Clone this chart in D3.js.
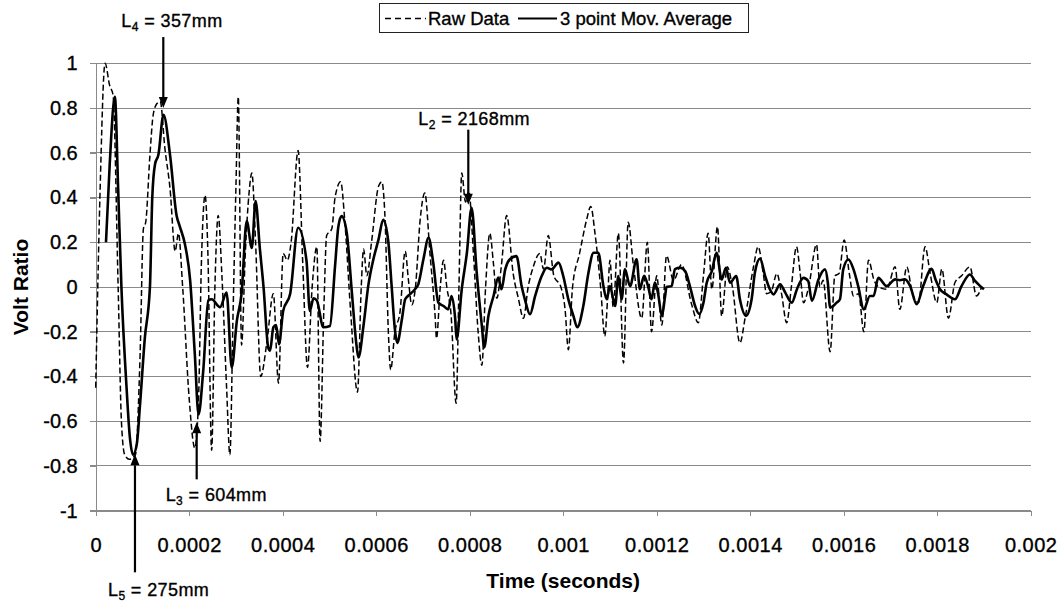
<!DOCTYPE html>
<html>
<head>
<meta charset="utf-8">
<script src="https://cdn.jsdelivr.net/npm/d3@7/dist/d3.min.js"></script>
<style>
  html, body { margin: 0; padding: 0; background: #fff; }
  svg { display: block; font-family: "Liberation Sans", Arial, sans-serif; }
  .ink { fill: #000; stroke: #000; stroke-width: 0.35px; }
</style>
</head>
<body>
<svg id="chart" width="1060" height="602"></svg>
<script>
// Time in microseconds, value as volt ratio.
const rawData = [
  [0,-0.45],[9,0.4],[20,1.0],[30,0.9],[37,0.86],[48,0.0],[55,-0.6],[62,-0.75],[72,-0.77],[85,-0.75],
  [95,-0.3],[102,0.26],[107,0.29],[116,0.59],[123,0.77],[131,0.82],[138,0.83],[148,0.62],[159,0.44],[170,0.16],
  [177,0.24],[186,0.0],[200,-0.5],[212,-0.72],[220,-0.5],[226,0.1],[234,0.41],[240,0.15],[248,-0.73],[255,0.0],
  [262,0.32],[270,0.05],[280,-0.45],[287,-0.75],[294,-0.1],[300,0.45],[305,0.85],[312,-0.26],[320,0.15],[328,0.42],
  [334,0.51],[342,0.2],[353,-0.40],[366,-0.25],[380,-0.03],[391,-0.43],[401,0.15],[410,0.12],[418,0.2],[433,0.61],
  [443,0.1],[453,-0.36],[463,0.0],[473,0.18],[480,-0.69],[488,-0.1],[494,0.23],[505,0.26],[512,0.4],[524,0.47],
  [533,0.29],[545,-0.1],[560,-0.47],[568,0.0],[573,0.17],[580,0.05],[590,0.2],[605,0.45],[612,0.47],[619,0.3],
  [626,-0.2],[631,-0.37],[640,-0.2],[651,-0.11],[662,0.16],[669,0.03],[676,-0.08],[684,0.0],[694,0.3],[704,0.42],
  [715,0.15],[726,-0.13],[729,-0.23],[737,0.0],[744,0.12],[751,0.0],[760,-0.12],[771,-0.52],[777,0.0],[783,0.51],
  [791,0.38],[798,0.43],[808,0.15],[818,-0.2],[826,-0.35],[834,0.0],[843,0.24],[851,0.1],[858,-0.05],[868,0.1],
  [879,0.32],[893,0.06],[904,-0.05],[915,-0.14],[925,0.0],[936,0.09],[950,0.15],[958,0.08],[968,0.23],[980,0.05],
  [995,0.0],[1004,-0.1],[1011,-0.28],[1020,0.0],[1035,0.15],[1050,0.3],[1059,0.36],[1068,0.24],[1080,0.0],[1089,-0.22],
  [1095,-0.05],[1100,0.12],[1107,-0.09],[1118,0.24],[1129,-0.34],[1139,0.29],[1150,0.1],[1168,-0.14],[1180,0.2],[1189,-0.2],
  [1200,0.05],[1211,-0.17],[1221,0.14],[1236,0.03],[1253,0.1],[1275,-0.08],[1289,-0.16],[1300,0.05],[1310,0.24],[1318,-0.01],
  [1330,0.27],[1339,-0.13],[1351,0.09],[1362,0.0],[1378,-0.25],[1389,-0.14],[1407,0.09],[1417,0.18],[1428,0.06],[1435,-0.03],
  [1445,-0.02],[1457,0.06],[1467,-0.03],[1478,-0.16],[1488,0.0],[1499,0.18],[1507,0.06],[1514,-0.07],[1525,0.0],[1542,0.19],
  [1549,0.0],[1556,0.03],[1571,-0.29],[1581,0.05],[1590,0.06],[1601,0.21],[1612,0.06],[1621,-0.04],[1632,-0.03],[1643,-0.2],
  [1653,0.12],[1665,0.03],[1675,0.0],[1692,-0.01],[1710,0.09],[1720,-0.1],[1735,0.09],[1746,-0.02],[1760,-0.07],[1774,0.18],
  [1785,0.06],[1799,-0.07],[1810,0.08],[1824,-0.14],[1838,0.02],[1852,0.05],[1870,0.09],[1884,-0.04],[1895,0.0]
];

const movingAverage = [
  [22,0.2],[30,0.55],[41,0.85],[48,0.44],[55,0.0],[66,-0.45],[73,-0.67],[80,-0.75],[88,-0.7],[95,-0.52],
  [105,-0.23],[116,0.0],[121,0.4],[127,0.55],[134,0.59],[145,0.77],[159,0.59],[173,0.32],[180,0.27],[191,0.19],
  [202,0.03],[212,-0.3],[220,-0.57],[230,-0.375],[241,-0.06],[248,-0.055],[266,-0.09],[280,-0.025],[291,-0.36],[302,-0.15],
  [312,-0.03],[323,0.295],[334,0.175],[342,0.384],[351,0.175],[359,0.0],[369,-0.27],[373,-0.285],[380,-0.18],[386,-0.17],
  [392,-0.256],[401,-0.107],[416,-0.03],[433,0.265],[451,0.116],[458,-0.107],[466,-0.05],[473,-0.06],[487,-0.18],[501,-0.174],
  [512,0.094],[519,0.27],[526,0.317],[537,0.243],[548,-0.025],[558,-0.263],[562,-0.315],[573,-0.17],[583,0.005],[594,0.124],
  [605,0.213],[615,0.30],[626,0.2],[633,0.005],[640,-0.19],[645,-0.25],[655,-0.144],[662,-0.055],[672,-0.033],[683,-0.01],
  [690,0.012],[701,0.124],[712,0.22],[722,0.109],[733,-0.07],[744,-0.085],[754,-0.10],[761,-0.04],[769,-0.144],[772,-0.234],
  [783,-0.01],[794,0.153],[804,0.354],[815,0.064],[826,-0.174],[831,-0.27],[840,-0.13],[851,-0.04],[861,0.042],[868,-0.01],
  [876,0.079],[886,0.124],[900,0.138],[911,0.004],[918,-0.055],[929,-0.122],[940,-0.04],[954,0.049],[965,0.086],[975,0.079],
  [990,0.109],[1000,0.05],[1011,-0.055],[1022,-0.13],[1030,-0.18],[1043,-0.085],[1054,0.064],[1065,0.153],[1075,0.153],[1086,0.004],
  [1093,-0.055],[1100,0.004],[1111,-0.085],[1118,0.049],[1125,-0.055],[1132,0.079],[1143,0.004],[1157,0.124],[1164,-0.01],[1173,0.05],
  [1182,0.0],[1189,-0.055],[1196,0.02],[1203,-0.03],[1211,-0.13],[1218,-0.04],[1221,0.0],[1232,0.004],[1239,0.08],[1250,0.086],
  [1261,0.07],[1271,0.004],[1282,-0.084],[1291,-0.121],[1300,-0.07],[1307,0.019],[1318,0.071],[1328,0.153],[1339,0.034],[1348,0.086],
  [1357,0.019],[1370,0.049],[1378,-0.055],[1391,-0.129],[1403,-0.055],[1410,0.064],[1421,0.127],[1432,0.049],[1442,-0.01],[1450,-0.033],
  [1464,0.012],[1475,-0.025],[1489,-0.07],[1500,-0.01],[1514,0.041],[1524,0.027],[1532,-0.062],[1546,0.034],[1560,0.079],[1566,0.02],
  [1571,-0.092],[1585,-0.07],[1592,-0.055],[1599,0.079],[1610,0.123],[1621,0.079],[1631,0.004],[1643,-0.1],[1656,-0.04],[1664,-0.04],
  [1674,0.041],[1692,0.004],[1710,0.034],[1720,0.03],[1731,0.034],[1742,0.005],[1756,-0.077],[1770,0.004],[1788,0.081],[1797,0.03],
  [1806,-0.01],[1820,-0.033],[1838,-0.055],[1852,0.004],[1870,0.056],[1881,0.027],[1892,0.004],[1900,-0.01]
];

const xTickValues = [0, 0.0002, 0.0004, 0.0006, 0.0008, 0.001, 0.0012, 0.0014, 0.0016, 0.0018, 0.002];
const xTickLabels = ["0", "0.0002", "0.0004", "0.0006", "0.0008", "0.001", "0.0012", "0.0014", "0.0016", "0.0018", "0.002"];
const yTickValues = [-1, -0.8, -0.6, -0.4, -0.2, 0, 0.2, 0.4, 0.6, 0.8, 1];
const yTickLabels = ["-1", "-0.8", "-0.6", "-0.4", "-0.2", "0", "0.2", "0.4", "0.6", "0.8", "1"];

const seriesNames = ["Raw Data", "3 point Mov. Average"];

// Reflection markers: name, subscript, length text, time (µs), value at arrow tip, arrow direction
const markerNames = ["L", "L", "L", "L"];
const markerSubs = ["4", "2", "3", "5"];
const markerLengths = ["357mm", "2168mm", "604mm", "275mm"];
const markerTimes = [144.6, 797, 216, 84];
const markerValues = [0.80, 0.368, -0.605, -0.748];
const markerDirs = ["down", "down", "up", "up"];

const svg = d3.select("#chart");

const x = d3.scaleLinear().domain([0, 0.002]).range([95.7, 1030.7]);
const y = d3.scaleLinear().domain([-1, 1]).range([510.7, 63.3]);
const us = 1e-6;

const gridColor = "#8a8a8a";

// horizontal gridlines
svg.append("g")
  .selectAll("line")
  .data(yTickValues)
  .join("line")
  .attr("x1", x(0) - 6)
  .attr("x2", x(0.002))
  .attr("y1", d => y(d))
  .attr("y2", d => y(d))
  .attr("stroke", gridColor)
  .attr("stroke-width", 1)
  .attr("shape-rendering", "crispEdges");

// y axis
const yAxis = d3.axisLeft(y)
  .tickValues(yTickValues)
  .tickFormat((d, i) => yTickLabels[i])
  .tickSize(6)
  .tickPadding(12);
const gy = svg.append("g").attr("transform", `translate(${x(0)},0)`).call(yAxis);
gy.select(".domain").attr("stroke", gridColor).attr("shape-rendering", "crispEdges");
gy.selectAll(".tick line").attr("stroke", gridColor).attr("shape-rendering", "crispEdges");
gy.selectAll(".tick text")
  .attr("class", "ink")
  .attr("font-size", 20)
  .attr("font-family", "Liberation Sans, Arial, sans-serif");

// x axis at the bottom (value -1)
const xAxis = d3.axisBottom(x)
  .tickValues(xTickValues)
  .tickFormat((d, i) => xTickLabels[i])
  .tickSize(5)
  .tickPadding(22);
const gx = svg.append("g").attr("transform", `translate(0,${y(-1)})`).call(xAxis);
gx.select(".domain").attr("stroke", gridColor).attr("shape-rendering", "crispEdges");
gx.selectAll(".tick line").attr("stroke", gridColor).attr("shape-rendering", "crispEdges");
gx.selectAll(".tick text")
  .attr("class", "ink")
  .attr("font-size", 20)
  .attr("letter-spacing", "0.5px")
  .attr("font-family", "Liberation Sans, Arial, sans-serif");

// axis titles
svg.append("text")
  .attr("x", (x(0) + x(0.002)) / 2)
  .attr("y", 588)
  .attr("text-anchor", "middle")
  .attr("font-size", 21)
  .attr("font-weight", "bold")
  .attr("fill", "#000")
  .text("Time (seconds)");

svg.append("text")
  .attr("transform", `translate(28,${y(0)}) rotate(-90)`)
  .attr("text-anchor", "middle")
  .attr("font-size", 21)
  .attr("font-weight", "bold")
  .attr("fill", "#000")
  .text("Volt Ratio");

// data lines
const line = d3.line()
  .x(d => x(d[0] * us))
  .y(d => y(d[1]))
  .curve(d3.curveMonotoneX);

svg.append("path")
  .datum(rawData)
  .attr("d", line)
  .attr("fill", "none")
  .attr("stroke", "#000")
  .attr("stroke-width", 1.5)
  .attr("stroke-dasharray", "6,3");

svg.append("path")
  .datum(movingAverage)
  .attr("d", line)
  .attr("fill", "none")
  .attr("stroke", "#000")
  .attr("stroke-width", 2.6)
  .attr("stroke-linejoin", "round");

// legend
const legend = svg.append("g");
legend.append("rect")
  .attr("x", 379.5).attr("y", 3.5)
  .attr("width", 369).attr("height", 29)
  .attr("fill", "#fff")
  .attr("stroke", "#222")
  .attr("stroke-width", 1);
legend.append("line")
  .attr("x1", 385).attr("x2", 426).attr("y1", 18.5).attr("y2", 18.5)
  .attr("stroke", "#000").attr("stroke-width", 1.5).attr("stroke-dasharray", "6,4");
legend.append("text")
  .attr("class", "ink")
  .attr("x", 428).attr("y", 25)
  .attr("font-size", 18.5)
  .text(seriesNames[0]);
legend.append("line")
  .attr("x1", 518).attr("x2", 557).attr("y1", 18.5).attr("y2", 18.5)
  .attr("stroke", "#000").attr("stroke-width", 2);
legend.append("text")
  .attr("class", "ink")
  .attr("x", 560).attr("y", 25)
  .attr("font-size", 18.5)
  .text(seriesNames[1]);

// reflection markers
const markerLayout = [
  { tail: -71, textX: -42, textY: -81 },
  { tail: -75, textX: -50, textY: -80 },
  { tail: 57,  textX: -31, textY: 79 },
  { tail: 118, textX: -27, textY: 142 }
];

const markers = svg.append("g");
markerNames.forEach((name, i) => {
  const tx = x(markerTimes[i] * us);
  const ty = y(markerValues[i]);
  const lay = markerLayout[i];
  const sign = markerDirs[i] === "down" ? 1 : -1;
  const headLen = 11, headHalf = 4.5;
  markers.append("line")
    .attr("x1", tx).attr("x2", tx)
    .attr("y1", ty + lay.tail)
    .attr("y2", ty - sign * headLen)
    .attr("stroke", "#000").attr("stroke-width", 2.2);
  markers.append("path")
    .attr("d", `M${tx},${ty} L${tx - headHalf},${ty - sign * headLen} L${tx + headHalf},${ty - sign * headLen} Z`)
    .attr("fill", "#000");
  const t = markers.append("text")
    .attr("class", "ink")
    .attr("x", tx + lay.textX)
    .attr("y", ty + lay.textY)
    .attr("font-size", 18)
    .attr("letter-spacing", "0.4px");
  t.append("tspan").text(name);
  t.append("tspan").attr("font-size", 12).attr("dy", 4).text(markerSubs[i]);
  t.append("tspan").attr("dy", -4).text(" = " + markerLengths[i]);
});
</script>
</body>
</html>
